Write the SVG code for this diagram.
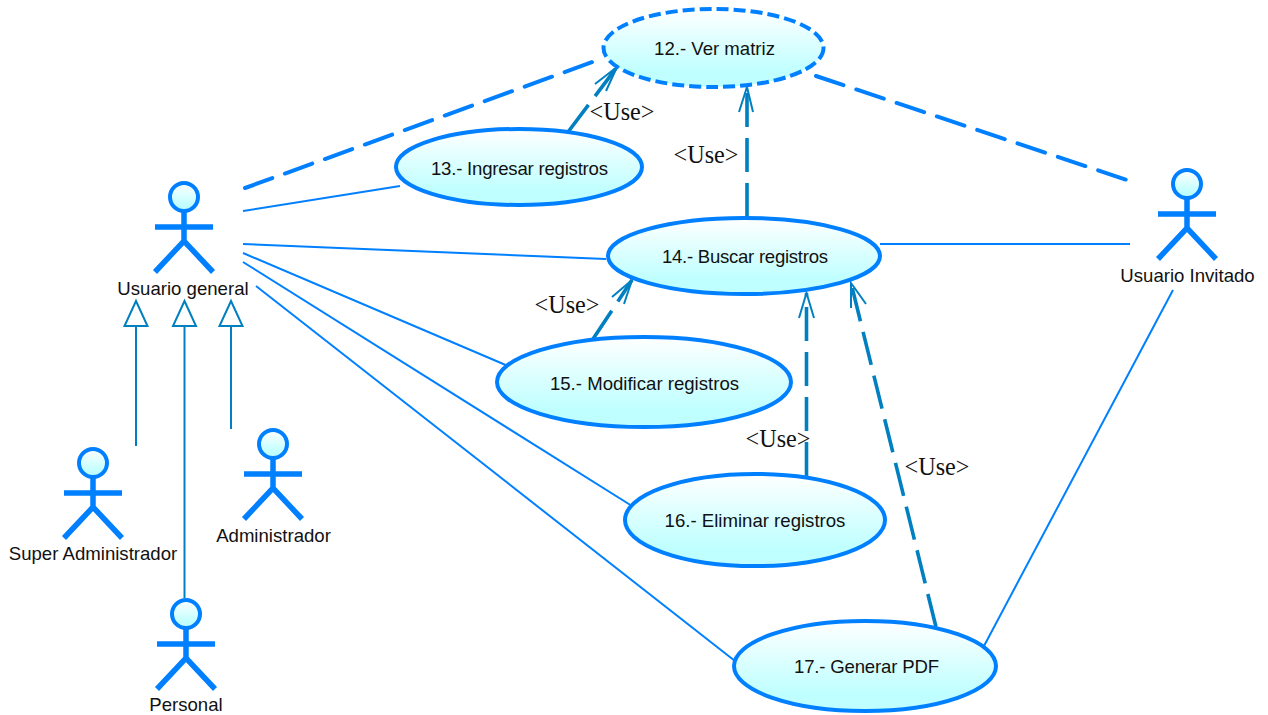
<svg xmlns="http://www.w3.org/2000/svg" width="1268" height="715" viewBox="0 0 1268 715">
<style>
.uc{stroke:#0080ff;stroke-width:4;fill:url(#g)}
.h{stroke:#0080ff;stroke-width:4;fill:url(#g)}
.s{stroke:#0080ff;stroke-width:5.5;fill:none}
.t{font-family:"Liberation Sans",Arial,sans-serif;font-size:18.6px;fill:#111;text-anchor:middle}
.u{font-family:"Liberation Serif","Times New Roman",serif;font-size:24.2px;fill:#111;text-anchor:middle}
.a{stroke:#0080ff;stroke-width:2;fill:none}
.d{stroke:#0080ff;stroke-width:4;fill:none;stroke-dasharray:29 13.5;stroke-linecap:round}
.i{stroke:#0080c0;stroke-width:3.6;fill:none;stroke-dasharray:34 11}
.o{stroke:#0080c0;stroke-width:2;fill:none}
.g{stroke:#0080c0;stroke-width:2;fill:#fff}
</style>
<defs>
<linearGradient id="g" x1="0" y1="0" x2="0" y2="1"><stop offset="0" stop-color="#fff"/><stop offset="0.8" stop-color="#c0ffff"/><stop offset="1" stop-color="#c0ffff"/></linearGradient>
<g id="actor">
<circle class="h" cx="0" cy="0" r="14"/>
<path class="s" d="M0 14V44M-29 30H29M-29 75L0 44L29 75"/>
</g>
</defs>
<g id="connectors">
<path class="a" d="M243 211L400 186"/>
<path class="a" d="M243 244L606 259"/>
<path class="a" d="M243 253L508 366"/>
<path class="a" d="M243 262L632 506"/>
<path class="a" d="M256 286L735 661"/>
<path class="a" d="M880 244H1130"/>
<path class="a" d="M1173 290L984 646"/>
<path class="d" d="M245 188L598 60"/>
<path class="d" d="M816 76L1130 181"/>
<path class="i" d="M568 132L617 67"/>
<path class="i" d="M747 217V87"/>
<path class="i" d="M593 339L632 280" stroke-dasharray="25 4 4 11 30"/>
<path class="i" d="M806.5 476V293"/>
<path class="i" d="M936 627L851 283"/>
<path class="o" d="M595 84L617 67L606 91"/>
<path class="o" d="M739 112L747 87L753 112"/>
<path class="o" d="M612 297L632 280L624 304"/>
<path class="o" d="M799 318L806.5 293L814 318"/>
<path class="o" d="M851 308L851 283L866 304"/>
<path class="g" d="M136 301L124.500 326H147.500Z"/>
<path class="g" d="M184.500 301L173 326H196Z"/>
<path class="g" d="M231 301L219.500 326H242.500Z"/>
<path class="o" d="M136 326V446"/>
<path class="o" d="M184.500 326V598"/>
<path class="o" d="M231 326V429"/>
</g>
<g id="n12"><ellipse cx="713.500" cy="48" rx="110" ry="39" fill="url(#g)" stroke="#0080ff" stroke-width="4" stroke-dasharray="12 5"/><text class="t" x="714.500" y="55">12.- Ver matriz</text></g>
<g id="n13"><ellipse class="uc" cx="519" cy="167" rx="123" ry="38"/><text class="t" x="519.500" y="175" textLength="177">13.- Ingresar registros</text></g>
<g id="n14"><ellipse class="uc" cx="744" cy="256" rx="136" ry="38"/><text class="t" x="745" y="263" textLength="166">14.- Buscar registros</text></g>
<g id="n15"><ellipse class="uc" cx="644" cy="382" rx="147" ry="45"/><text class="t" x="644.500" y="390">15.- Modificar registros</text></g>
<g id="n16"><ellipse class="uc" cx="755" cy="520" rx="130" ry="46"/><text class="t" x="755" y="527">16.- Eliminar registros</text></g>
<g id="n17"><ellipse class="uc" cx="865" cy="666" rx="131" ry="45"/><text class="t" x="866.500" y="673" textLength="145">17.- Generar PDF</text></g>
<g id="a1"><use href="#actor" x="184" y="197"/><text class="t" x="183" y="295">Usuario general</text></g>
<g id="a2"><use href="#actor" x="1187" y="184"/><text class="t" x="1187.500" y="282">Usuario Invitado</text></g>
<g id="a3"><use href="#actor" x="93" y="463"/><text class="t" x="93" y="560">Super Administrador</text></g>
<g id="a4"><use href="#actor" x="273" y="444"/><text class="t" x="273.500" y="542">Administrador</text></g>
<g id="a5"><use href="#actor" x="186" y="614"/><text class="t" x="186" y="711">Personal</text></g>
<g id="labels">
<text class="u" x="622" y="120">&lt;Use&gt;</text>
<text class="u" x="706" y="163">&lt;Use&gt;</text>
<text class="u" x="567" y="313">&lt;Use&gt;</text>
<text class="u" x="778" y="447">&lt;Use&gt;</text>
<text class="u" x="937" y="475">&lt;Use&gt;</text>
</g>
</svg>
